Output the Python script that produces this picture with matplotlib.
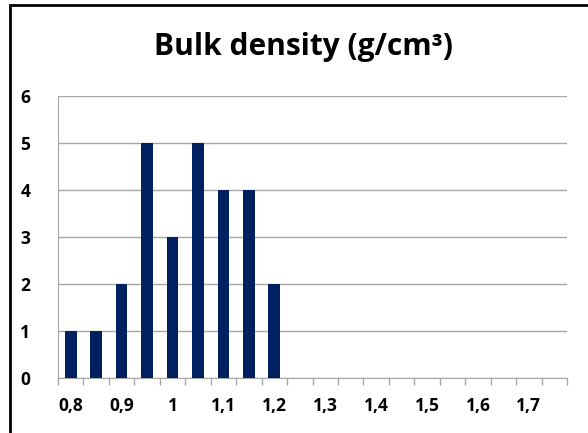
import matplotlib.pyplot as plt
from matplotlib.patches import Rectangle
import numpy as np

# Classes de densité apparente (g/cm3) et effectifs
classes = ["0,8", "0,85", "0,9", "0,95", "1", "1,05", "1,1", "1,15", "1,2", "1,25",
           "1,3", "1,35", "1,4", "1,45", "1,5", "1,55", "1,6", "1,65", "1,7", "1,75"]
effectifs = [1, 1, 2, 5, 3, 5, 4, 4, 2, 0, 0, 0, 0, 0, 0, 0, 0, 0, 0, 0]
etiquettes = [c if i % 2 == 0 else "" for i, c in enumerate(classes)]

plt.rcParams['font.family'] = ['Open Sans', 'DejaVu Sans']

fig = plt.figure(figsize=(5.88, 4.33), dpi=100)
ax = fig.add_axes([58 / 588, 55 / 433, (567 - 58) / 588, (378 - 96) / 433])

x = np.arange(len(classes))
ax.bar(x, effectifs, width=0.46, color="#002060", zorder=3)

ax.set_xlim(-0.5, len(classes) - 0.5)
ax.set_ylim(0, 6)
ax.set_yticks(range(7))
ax.yaxis.grid(True, color="#a6a6a6", linewidth=1)
ax.set_xticks(x)
ax.set_xticklabels(etiquettes, fontsize=12.5, fontweight="bold")
ax.set_xticks(np.arange(-0.5, len(classes)), minor=True)
ax.tick_params(axis="x", which="major", length=0, pad=14)
ax.tick_params(axis="x", which="minor", length=5, color="#a6a6a6", width=1)
ax.tick_params(axis="y", length=0, pad=20, labelsize=12.5)
for lab in ax.get_yticklabels():
    lab.set_fontweight("bold")

for s in ["top", "right"]:
    ax.spines[s].set_visible(False)
ax.spines["left"].set_color("#a6a6a6")
ax.spines["bottom"].set_color("#a6a6a6")

fig.text(303 / 588, 1 - 47 / 433, "Bulk density (g/cm³)", ha="center", va="center",
         fontsize=21.5, fontweight="bold")

# Cadre du graphique
fig.patches.append(Rectangle((10 / 588, -0.1), 1.2, 1 - 5 / 433 + 0.1,
                             transform=fig.transFigure, fill=False,
                             edgecolor="black", linewidth=2))

plt.savefig("out.png")
